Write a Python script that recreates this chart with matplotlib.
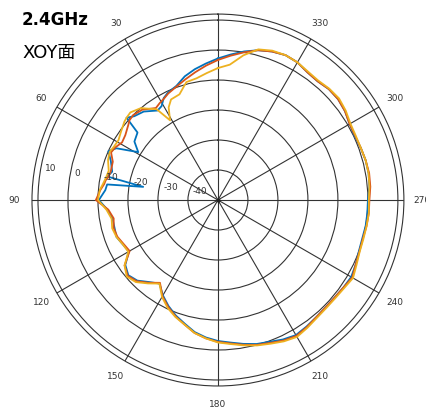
import matplotlib.pyplot as plt
import numpy as np
from matplotlib.transforms import ScaledTranslation

plt.rcParams['font.family'] = ['DejaVu Sans', 'Noto Sans CJK SC']

# measurement angles (deg, ccw from top)
angles = [0, 5, 10, 15, 20, 25, 28, 31, 34, 40, 45, 48, 50, 55, 59, 63, 66, 70, 75, 78, 80, 82,
          85, 90, 95, 100, 105, 110, 115, 120, 125, 130, 135, 140, 145, 150, 155, 160,
          165, 170, 175, 180, 185, 190, 195, 200, 205, 210, 215, 220, 225, 230, 235, 240,
          245, 250, 255, 260, 265, 270, 275, 280, 285, 290, 295, 300, 305, 310, 315, 320,
          325, 330, 335, 340, 345, 350, 355]

gain_blue = [-2.8, -4.3, -5.7, -7.3, -9.5, -10.5, -11.5, -13.5, -14.0, -11.5, -10.5, -9.0,
             -15.0, -16.0, -19.0, -12.0, -10.0, -12.0, -13.5, -12.3, -24.7, -12.7,
             -12.3, -10.3, -13.0, -14.3, -14.3, -14.0, -15.0, -15.7, -12.3, -11.0, -12.0, -14.3,
             -16.0, -13.3, -11.0, -9.0, -7.3, -5.3, -4.0, -3.0, -2.3, -1.3, -0.3, 0.3,
             1.3, 2.0, 1.5, 1.0, 0.7, 0.7, 1.0, 1.3, 0.7, 0.0, -0.2, 0.0, 0.0, 0.0,
             0.7, 1.0, 1.0, 0.7, 0.3, 0.7, 1.7, 2.3, 2.3, 1.7, 2.0, 3.0, 3.3, 2.7, 1.7, 0.3, -1.3]

gain_red = [-3.3, -5.0, -6.7, -8.3, -9.7, -10.8, -11.7, -12.3, -13.0, -10.7, -10.0, -10.3,
            -11.0, -12.3, -12.7, -11.5, -11.0, -12.7, -13.0, -12.7, -12.0, -11.7,
            -10.7, -9.3, -13.3, -14.7, -14.0, -14.3, -15.3, -16.0, -12.0, -10.7, -11.7, -14.0,
            -16.3, -13.0, -10.7, -8.7, -7.0, -5.0, -3.7, -2.7, -2.0, -1.0, 0.0, 0.7,
            1.7, 2.3, 1.7, 1.0, 0.7, 0.7, 1.0, 1.7, 0.7, 0.2, 0.0, 0.3, 0.5, 0.5,
            1.0, 1.2, 1.0, 0.7, 0.5, 0.7, 1.7, 2.3, 2.3, 1.7, 2.0, 3.0, 3.3, 2.7, 1.7, 0.0, -1.7]

gain_yellow = [-6.0, -7.5, -8.8, -9.3, -12.5, -13.0, -15.0, -19.0, -13.5, -10.0, -8.7, -9.0,
               -9.3, -10.5, -11.3, -11.0, -10.5, -11.0, -12.3, -12.0, -11.7, -11.3,
               -10.5, -10.0, -12.7, -14.0, -13.5, -14.0, -15.0, -15.5, -12.0, -10.3, -11.3, -13.7,
               -16.0, -12.7, -10.3, -8.5, -7.0, -5.0, -3.7, -2.5, -1.8, -0.8, 0.2, 1.0,
               2.0, 2.7, 2.0, 1.3, 1.0, 1.0, 1.3, 2.0, 1.0, 0.3, 0.2, 0.3, 0.5, 0.3,
               0.7, 1.0, 1.0, 0.7, 0.7, 1.0, 2.0, 2.7, 2.5, 2.0, 2.3, 3.0, 3.3, 3.0, 2.0, -1.0, -4.7]

r_ticks = [-40, -30, -20, -10, 0, 10]
theta_ticks = [0, 30, 60, 90, 120, 150, 180, 210, 240, 270, 300, 330]
theta_labels = ['', '30', '60', '90', '120', '150', '180', '210', '240', '270', '300', '330']

fig = plt.figure(figsize=(4.27, 4.09), dpi=100)
ax = fig.add_axes([0.0749, 0.0562, 0.871, 0.9095], projection='polar')
ax.set_theta_zero_location('N')
ax.set_theta_direction(1)

th = np.deg2rad(angles + [angles[0]])
for gains, color in [(gain_blue, '#0072BD'), (gain_red, '#D95319'), (gain_yellow, '#EDB120')]:
    ax.plot(th, gains + [gains[0]], color=color, lw=1.3)

ax.set_ylim(-50, 12)
ax.set_rgrids(r_ticks, [''] * len(r_ticks))
ax.set_thetagrids(theta_ticks, theta_labels, fontsize=6.5, color='#333333')
ax.tick_params(axis='x', pad=2.5)
ax.grid(True, color='#333333', lw=0.8)
ax.spines['polar'].set_color('#333333')
ax.spines['polar'].set_linewidth(0.8)
ax.plot([0], [-50], 'o', color='#222222', ms=2)

# radial labels, MATLAB-style: just right of each ring near 80 deg
shift = ax.transData + ScaledTranslation(4.5 / 100, 3.5 / 100, fig.dpi_scale_trans)
for v in r_ticks:
    ax.text(np.deg2rad(81), v, str(v), transform=shift, ha='left', va='center',
            fontsize=6.5, color='#333333')

fig.text(0.0515, 0.939, '2.4GHz', fontsize=12, fontweight='bold')
fig.text(0.0515, 0.859, 'XOY面', fontsize=13)

fig.savefig('out.png', dpi=100)
